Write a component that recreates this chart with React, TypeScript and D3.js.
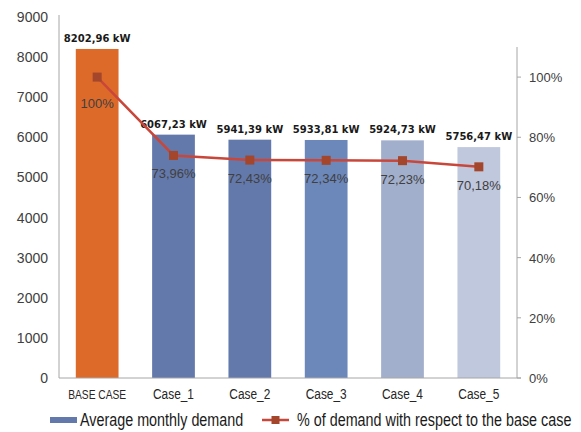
import React, { useEffect, useRef } from "react";
import * as d3 from "d3";

const categories = ["BASE CASE", "Case_1", "Case_2", "Case_3", "Case_4", "Case_5"];
const demand = [8202.96, 6067.23, 5941.39, 5933.81, 5924.73, 5756.47];
const demandLabels = ["8202,96 kW", "6067,23 kW", "5941,39 kW", "5933,81 kW", "5924,73 kW", "5756,47 kW"];
const percent = [1.0, 0.7396, 0.7243, 0.7234, 0.7223, 0.7018];
const percentLabels = ["100%", "73,96%", "72,43%", "72,34%", "72,23%", "70,18%"];
const barColors = ["#DE6A2A", "#6479AB", "#6479AB", "#6C87B9", "#A2AFCC", "#C0C8DE"];
const leftTicks = [0, 1000, 2000, 3000, 4000, 5000, 6000, 7000, 8000, 9000];
const rightTicks = [0, 0.2, 0.4, 0.6, 0.8, 1.0];
const legendLabels = ["Average monthly demand", "% of demand with respect to the base case"];

const W = 581, H = 432;
const SANS = "'Liberation Sans', Arial, sans-serif";
const NARROW_SCALE = 0.82;

export default function App() {
  const ref = useRef<SVGSVGElement>(null);
  useEffect(() => {
    const svg = d3.select(ref.current);
    svg.selectAll("*").remove();
    const x0 = 59, x1 = 517, yBase = 378;
    const x = d3.scaleBand().domain(categories).range([x0, x1]).paddingInner(0.44).paddingOuter(0.22);
    const yL = d3.scaleLinear().domain([0, 9000]).range([yBase, 17]);
    const yR = d3.scaleLinear().domain([0, 1.1]).range([yBase, yBase - 331]);

    // bars
    svg.append("g").selectAll("rect").data(demand).join("rect")
      .attr("x", (_, i) => x(categories[i])!)
      .attr("width", x.bandwidth())
      .attr("y", d => yL(d))
      .attr("height", d => yBase - yL(d))
      .attr("fill", (_, i) => barColors[i]);

    // axes lines
    svg.append("line").attr("x1", x0).attr("x2", x0).attr("y1", yL(9000) - 2).attr("y2", yBase)
      .attr("stroke", "#A6A6A6").attr("stroke-width", 1);
    svg.append("line").attr("x1", x1).attr("x2", x1).attr("y1", yR(1.1)).attr("y2", yBase)
      .attr("stroke", "#A6A6A6").attr("stroke-width", 1);
    svg.append("line").attr("x1", x0).attr("x2", x1 + 4).attr("y1", yBase).attr("y2", yBase)
      .attr("stroke", "#A6A6A6").attr("stroke-width", 1);

    // left tick labels
    svg.append("g").selectAll("text").data(leftTicks).join("text")
      .attr("x", 48).attr("y", d => yL(d) + 5)
      .attr("text-anchor", "end").attr("font-family", SANS).attr("font-size", 14)
      .attr("fill", "#404040").text(d => String(d));

    // right ticks
    svg.append("g").selectAll("line").data(rightTicks).join("line")
      .attr("x1", x1).attr("x2", x1 + 4).attr("y1", d => yR(d)).attr("y2", d => yR(d))
      .attr("stroke", "#A6A6A6");
    svg.append("g").selectAll("text").data(rightTicks).join("text")
      .attr("x", 529).attr("y", d => yR(d) + 5)
      .attr("font-family", SANS).attr("font-size", 13)
      .attr("fill", "#404040").text(d => `${Math.round(d * 100)}%`);

    // category labels (narrow)
    svg.append("g").selectAll("text").data(categories).join("text")
      .attr("transform", d => `translate(${x(d)! + x.bandwidth() / 2},399) scale(${NARROW_SCALE},1)`)
      .attr("text-anchor", "middle").attr("font-family", SANS)
      .attr("font-size", (_, i) => (i === 0 ? 12.5 : 14.5))
      .attr("fill", "#262626").text(d => d);

    // value labels
    svg.append("g").selectAll("text").data(demand).join("text")
      .attr("x", (_, i) => x(categories[i])! + x.bandwidth() / 2).attr("y", d => yL(d) - 7)
      .attr("text-anchor", "middle").attr("font-family", "'DejaVu Sans', sans-serif")
      .attr("font-weight", "bold").attr("font-size", 10).attr("fill", "#1a1a1a")
      .text((_, i) => demandLabels[i]);

    // line
    const cx = (i: number) => x(categories[i])! + x.bandwidth() / 2;
    const line = d3.line<number>().x((_, i) => cx(i)).y(d => yR(d));
    svg.append("path").datum(percent).attr("d", line).attr("fill", "none")
      .attr("stroke", "#C8473A").attr("stroke-width", 2.5);
    svg.append("g").selectAll("rect").data(percent).join("rect")
      .attr("x", (_, i) => cx(i) - 4.5).attr("y", d => yR(d) - 4.5)
      .attr("width", 9).attr("height", 9).attr("fill", "#A3462B");

    // percent labels
    svg.append("g").selectAll("text").data(percent).join("text")
      .attr("x", (_, i) => cx(i)).attr("y", (d, i) => yR(d) + (i === 0 ? 31 : 23))
      .attr("text-anchor", "middle").attr("font-family", SANS).attr("font-size", 13)
      .attr("fill", "#404040").text((_, i) => percentLabels[i]);

    // legend
    const ly = 420;
    svg.append("rect").attr("x", 50).attr("y", ly - 3).attr("width", 27).attr("height", 6).attr("fill", "#6479AB");
    svg.append("text").attr("transform", `translate(80,${ly + 6}) scale(${NARROW_SCALE},1)`)
      .attr("font-family", SANS).attr("font-size", 17.5)
      .attr("fill", "#1a1a1a").text(legendLabels[0]);
    svg.append("line").attr("x1", 262).attr("x2", 289).attr("y1", ly).attr("y2", ly)
      .attr("stroke", "#C8473A").attr("stroke-width", 2.5);
    svg.append("rect").attr("x", 271.5).attr("y", ly - 4).attr("width", 8).attr("height", 8).attr("fill", "#A3462B");
    svg.append("text").attr("transform", `translate(297,${ly + 6}) scale(${NARROW_SCALE},1)`)
      .attr("font-family", SANS).attr("font-size", 17.5)
      .attr("fill", "#1a1a1a").text(legendLabels[1]);
  }, []);
  return (
    <svg ref={ref} width={W} height={H} style={{ position: "absolute", left: 0, top: 0, background: "#fff" }} />
  );
}
